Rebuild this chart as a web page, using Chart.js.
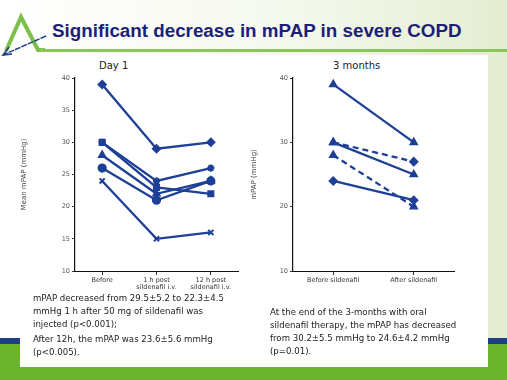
<!DOCTYPE html>
<html>
<head>
<meta charset="utf-8">
<script src="https://cdn.jsdelivr.net/npm/chart.js@4.4.0/dist/chart.umd.min.js"></script>
<style>
  body { margin: 0; width: 507px; height: 380px; overflow: hidden; position: relative;
         background: linear-gradient(90deg, #ffffff 0%, #f4f8ec 60%, #e3edd2 100%); font-family: "DejaVu Sans", sans-serif; }
  #bandBlue { position: absolute; left: 0; top: 338px; width: 507px; height: 6px; background: #1d3f86; }
  #bandGreen { position: absolute; left: 0; top: 344px; width: 507px; height: 36px; background: #6cb42e; }
  #panel { position: absolute; left: 20px; top: 55px; width: 468px; height: 312px; background: #fff; }
  #rule { position: absolute; left: 40px; top: 49px; width: 467px; height: 3px; background: #8cc55a; }
  #title { position: absolute; left: 52px; top: 20px; font: bold 18.8px "Liberation Sans", Arial, sans-serif; color: #1c1f7a; }
  .note { position: absolute; font-size: 8.6px; line-height: 13px; color: #222; white-space: nowrap; }
  .ctitle { position: absolute; font: 10px "DejaVu Sans", sans-serif; color: #222; }
  canvas { position: absolute; }
</style>
</head>
<body>
<div id="bandBlue"></div>
<div id="bandGreen"></div>
<div id="panel"></div>
<svg style="position:absolute;left:0;top:0" width="60" height="60">
  <polyline points="6,51 21,17 38,50 45,50" fill="none" stroke="#7cc04a" stroke-width="4"/>
  <line x1="46" y1="36" x2="3" y2="55" stroke="#1d3f86" stroke-width="1.5" stroke-dasharray="6,1"/>
  <polyline points="9,47 3,55 12,54" fill="none" stroke="#1d3f86" stroke-width="1.5"/>
</svg>
<div id="rule"></div>
<div id="title">Significant decrease in mPAP in severe COPD</div>

<div class="ctitle" style="left:99px;top:60px">Day 1</div>
<div class="ctitle" style="left:333px;top:60px">3 months</div>

<canvas id="dayChart" width="230" height="240" style="left:20px;top:58px"></canvas>
<canvas id="monthChart" width="210" height="240" style="left:250px;top:58px"></canvas>

<div class="note" style="left:33px;top:292px">mPAP decreased from 29.5±5.2 to 22.3±4.5<br>mmHg 1 h after 50 mg of sildenafil was<br>injected (p&lt;0.001);</div>
<div class="note" style="left:33px;top:333px">After 12h, the mPAP was 23.6±5.6 mmHg<br>(p&lt;0.005).</div>
<div class="note" style="left:270px;top:306px">At the end of the 3-months with oral<br>sildenafil therapy, the mPAP has decreased<br>from 30.2±5.5 mmHg to 24.6±4.2 mmHg<br>(p=0.01).</div>

<script>
var dayLabels = ["Before", ["1 h post", "sildenafil i.v."], ["12 h post", "sildenafil i.v."]];
var dayA = [39, 29, 30];
var dayB = [30, 24, 26];
var dayC = [30, 23, 22];
var dayD = [28, 22, 24];
var dayE = [26, 21, 24];
var dayF = [24, 15, 16];

var monthLabels = ["Before sildenafil", "After sildenafil"];
var monthA = [39, 30];
var monthB = [30, 25];
var monthC = [30, 27];
var monthD = [28, 20];
var monthE = [24, 21];

var dayTicks = [10, 15, 20, 25, 30, 35, 40];
var monthTicks = [10, 20, 30, 40];

var navy = '#1e3f96';
var tickFont = { family: 'DejaVu Sans', size: 6.5 };

function series(data, shape, dashed, endShape) {
    return {
        data: data,
        borderColor: navy,
        backgroundColor: navy,
        borderWidth: 2.3,
        borderDash: dashed ? [6, 4] : [],
        pointStyle: endShape ? [shape, endShape] : shape,
        pointRadius: 3.6,
        pointBorderWidth: 2,
        tension: 0
    };
}

function makeOptions(yTitle, ticks, yWidth, right) {
    return {
        responsive: false,
        animation: false,
        layout: { padding: { right: right, left: 0, top: 20, bottom: 0 } },
        plugins: {
            legend: { display: false },
            tooltip: { enabled: false }
        },
        scales: {
            x: {
                offset: true,
                afterFit: function (s) { s.height = 27; },
                grid: { display: true, drawOnChartArea: false, tickLength: 4, color: '#333' },
                border: { color: '#111', width: 1 },
                ticks: { color: '#333', font: tickFont, padding: 1, maxRotation: 0, autoSkip: false }
            },
            y: {
                min: 10, max: 40,
                afterFit: function (s) { s.width = yWidth; },
                afterBuildTicks: function (s) { s.ticks = ticks.map(function (v) { return { value: v }; }); },
                grid: { display: true, drawOnChartArea: false, tickLength: 3, color: '#333' },
                border: { color: '#111', width: 1.2 },
                ticks: { color: '#555', font: tickFont, padding: 2 },
                title: { display: true, text: yTitle, color: '#444', font: { family: 'DejaVu Sans', size: 7 }, padding: 0 }
            }
        }
    };
}

new Chart(document.getElementById('dayChart').getContext('2d'), {
    type: 'line',
    data: {
        labels: dayLabels,
        datasets: [
            series(dayA, 'rectRot'),
            series(dayB, 'star'),
            series(dayC, 'rect'),
            series(dayD, 'triangle'),
            series(dayE, 'circle'),
            series(dayF, 'crossRot')
        ]
    },
    options: makeOptions('Mean mPAP (mmHg)', dayTicks, 55, 12)
});

new Chart(document.getElementById('monthChart').getContext('2d'), {
    type: 'line',
    data: {
        labels: monthLabels,
        datasets: [
            series(monthA, 'triangle'),
            series(monthB, 'triangle'),
            series(monthC, 'triangle', true, 'rectRot'),
            series(monthD, 'triangle', true),
            series(monthE, 'rectRot')
        ]
    },
    options: makeOptions('mPAP (mmHg)', monthTicks, 43, 5)
});
</script>
</body>
</html>
